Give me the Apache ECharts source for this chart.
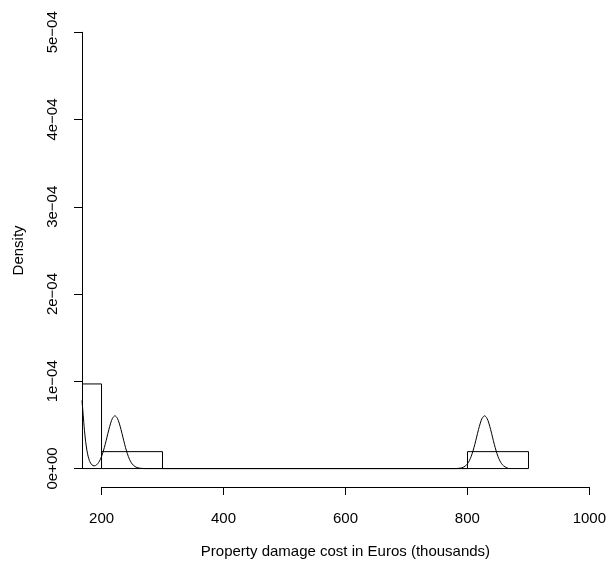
<!DOCTYPE html>
<html>
<head>
<meta charset="utf-8">
<style>
  html, body { margin: 0; padding: 0; background: #ffffff; }
  #chart { width: 609px; height: 566px; }
</style>
<script src="https://cdn.jsdelivr.net/npm/echarts@6/dist/echarts.min.js"></script>
</head>
<body>
<div id="chart"></div>
<script>
// Histogram bins (edges) and their densities
const binEdges = [100, 200, 300, 400, 500, 600, 700, 800, 900];
const binDensity = [9.7e-5, 1.94e-5, 0, 0, 0, 0, 0, 1.94e-5];

// Kernel density estimate, read off as (x, density) pairs
const curveX = [168, 170, 172, 174, 176, 178, 180, 182, 184, 186, 188, 190, 192, 195, 198,
  200, 203, 206, 209, 212, 215, 218, 222, 226, 229, 232, 235, 238, 241, 244, 246, 249, 252, 255, 258,
  262, 266, 272, 780, 786, 790, 794, 797, 800, 803, 806, 809, 812, 815, 818, 821, 824, 828, 832, 835,
  838, 841, 844, 847, 850, 853, 856, 859, 862, 866];
const curveY = [7.8e-5, 6.10e-5, 4.39e-5, 3.08e-5, 2.11e-5, 1.42e-5, 9.5e-6, 6.3e-6,
  4.4e-6, 3.4e-6, 3.1e-6, 3.4e-6, 4.3e-6, 6.7e-6, 1.04e-5,
  1.38e-5, 2.01e-5, 2.77e-5, 3.61e-5, 4.46e-5, 5.21e-5, 5.76e-5, 6.05e-5, 5.76e-5, 5.21e-5, 4.46e-5,
  3.61e-5, 2.77e-5, 2.01e-5, 1.38e-5, 1.04e-5, 6.5e-6, 3.9e-6, 2.2e-6, 1.2e-6,
  4.6e-7, 1.6e-7, 0, 0, 2.8e-7, 7.4e-7, 1.78e-6, 3.2e-6, 5.5e-6, 9.0e-6, 1.38e-5, 2.01e-5, 2.77e-5,
  3.61e-5, 4.46e-5, 5.21e-5, 5.76e-5, 6.05e-5, 5.76e-5, 5.21e-5,
  4.46e-5, 3.61e-5, 2.77e-5, 2.01e-5, 1.38e-5, 9.0e-6, 5.5e-6, 3.2e-6, 1.78e-6, 7.4e-7];

// Axis ticks and labels
const xTicks = [200, 400, 600, 800, 1000];
const yTickLabels = ['0e+00', '1e\u221204', '2e\u221204', '3e\u221204', '4e\u221204', '5e\u221204'];

const FONT = 'Liberation Sans, Arial, Helvetica, sans-serif';
const FS = 15;
const INK = '#000000';

const bins = binDensity.map((d, i) => [binEdges[i], binEdges[i + 1], d]);
const curve = curveX.map((x, i) => [x, curveY[i]]);

const chart = echarts.init(document.getElementById('chart'), null, { renderer: 'canvas' });

chart.setOption({
  backgroundColor: '#ffffff',
  animation: false,
  grid: [
    // plotting region
    { left: 82, top: 15, width: 528, height: 471 },
    // bottom axis, drawn from first to last tick
    { left: 101.6, top: 486, width: 488.8, height: 1 },
    // left axis, drawn from first to last tick
    { left: 82, top: 32.3, width: 1, height: 436.2 }
  ],
  xAxis: [
    { gridIndex: 0, type: 'value', min: 168, max: 1032, show: false },
    {
      gridIndex: 1, type: 'value', min: xTicks[0], max: xTicks[xTicks.length - 1], interval: 200,
      position: 'bottom',
      axisLine: { show: true, lineStyle: { color: INK, width: 1 } },
      axisTick: { show: true, length: 8, lineStyle: { color: INK, width: 1 } },
      axisLabel: { show: true, margin: 24, color: INK, fontFamily: FONT, fontSize: FS,
        formatter: v => String(v) },
      splitLine: { show: false },
      name: 'Property damage cost in Euros (thousands)',
      nameLocation: 'middle', nameGap: 57,
      nameTextStyle: { color: INK, fontFamily: FONT, fontSize: FS }
    },
    { gridIndex: 2, type: 'value', show: false }
  ],
  yAxis: [
    { gridIndex: 0, type: 'value', min: -2e-5, max: 5.2e-4, show: false },
    { gridIndex: 1, type: 'value', show: false },
    {
      gridIndex: 2, type: 'value', min: 0, max: 5e-4, interval: 1e-4,
      position: 'left',
      axisLine: { show: true, lineStyle: { color: INK, width: 1 } },
      axisTick: { show: true, length: 8, lineStyle: { color: INK, width: 1 } },
      axisLabel: { show: true, rotate: 90, margin: 22, color: INK, fontFamily: FONT, fontSize: FS,
        formatter: v => yTickLabels[Math.round(v / 1e-4)] },
      splitLine: { show: false },
      name: 'Density', nameLocation: 'middle', nameGap: 56, nameRotate: 90,
      nameTextStyle: { color: INK, fontFamily: FONT, fontSize: FS }
    }
  ],
  series: [
    {
      type: 'custom',
      xAxisIndex: 0, yAxisIndex: 0,
      clip: true,
      data: bins,
      renderItem: function (params, api) {
        const p0 = api.coord([api.value(0), api.value(2)]);
        const p1 = api.coord([api.value(1), 0]);
        return {
          type: 'rect',
          shape: { x: p0[0], y: p0[1], width: p1[0] - p0[0], height: p1[1] - p0[1] },
          style: { fill: null, stroke: INK, lineWidth: 1 }
        };
      }
    },
    {
      type: 'line',
      xAxisIndex: 0, yAxisIndex: 0,
      data: curve,
      showSymbol: false,
      symbol: 'none',
      smooth: 0.3,
      clip: true,
      lineStyle: { color: INK, width: 1 }
    }
  ]
});
</script>
</body>
</html>
